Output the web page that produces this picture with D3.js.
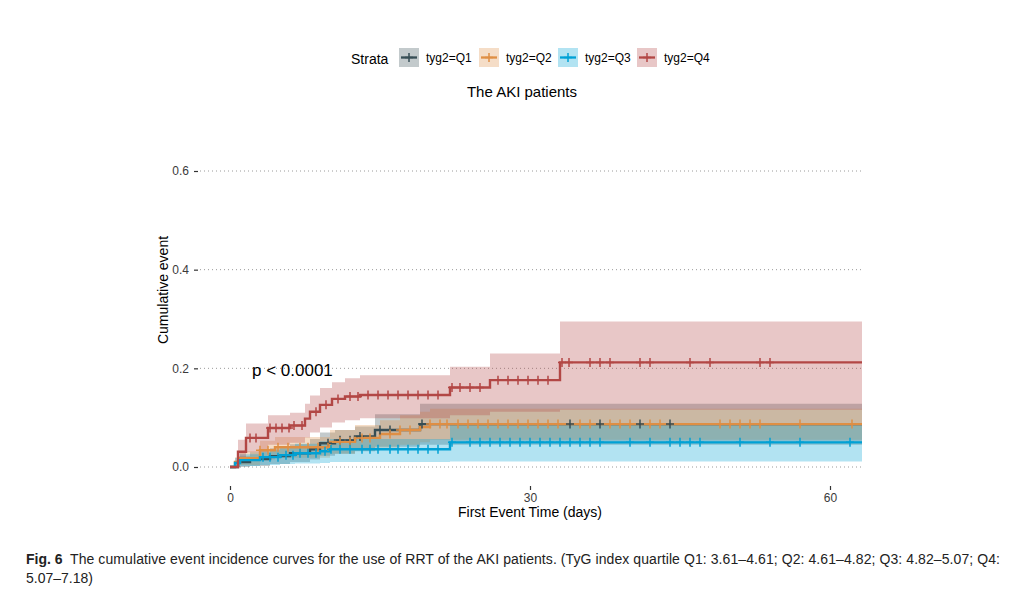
<!DOCTYPE html>
<html>
<head>
<meta charset="utf-8">
<script src="https://cdn.jsdelivr.net/npm/d3@7/dist/d3.min.js"></script>
<style>
  html, body { margin: 0; padding: 0; background: #fff; }
  svg { display: block; }
  text { font-family: "Liberation Sans", Arial, sans-serif; }
</style>
</head>
<body>
<svg id="chart" width="1012" height="593"></svg>
<script>
// ---------- data ----------
const strata = ["tyg2=Q1", "tyg2=Q2", "tyg2=Q3", "tyg2=Q4"];
const colors = ["#374E55", "#DF8F44", "#00A1D5", "#B24745"];

const q1Time  = [0, 0.8, 2, 4, 6, 8, 9, 10.5, 12.5, 14.5, 19];
const q1Est   = [0, 0.010, 0.016, 0.022, 0.028, 0.036, 0.048, 0.054, 0.062, 0.075, 0.087];
const q1Lower = [0, 0, 0.002, 0.006, 0.010, 0.015, 0.023, 0.027, 0.032, 0.041, 0.045];
const q1Upper = [0, 0.022, 0.030, 0.038, 0.046, 0.057, 0.070, 0.075, 0.082, 0.107, 0.128];
const q1Censor = [9.8, 11, 12, 13, 15, 16, 19.2, 34, 37, 41, 44];

const q2Time  = [0, 0.5, 1, 3, 4.5, 10, 12.5, 15, 17, 19, 20];
const q2Est   = [0, 0.010, 0.018, 0.034, 0.040, 0.051, 0.059, 0.067, 0.075, 0.081, 0.087];
const q2Lower = [0, 0, 0.004, 0.015, 0.019, 0.027, 0.033, 0.039, 0.045, 0.050, 0.055];
const q2Upper = [0, 0.020, 0.032, 0.053, 0.061, 0.075, 0.085, 0.095, 0.105, 0.112, 0.118];
const q2Censor = [3, 3.8, 4.8, 5.8, 7, 7.8, 8.8, 9.8, 11, 12, 13.2, 14, 16, 17, 18, 20, 21,
  21.7, 22.8, 23.8, 24.8, 25.8, 26.8, 27.8, 28.8, 29.8, 30.8, 31.8, 32.8, 35, 36, 38, 39, 40,
  42, 43, 49, 50, 51, 52, 53, 57, 62.2];

const q3Time  = [0, 0.5, 1, 3, 5, 6.5, 9, 10, 22];
const q3Est   = [0, 0.008, 0.014, 0.020, 0.024, 0.028, 0.032, 0.036, 0.050];
const q3Lower = [0, 0, 0.002, 0.004, 0.006, 0.007, 0.008, 0.010, 0.011];
const q3Upper = [0, 0.018, 0.026, 0.035, 0.041, 0.047, 0.052, 0.057, 0.086];
const q3Censor = [3.3, 4, 4.8, 5.6, 6.3, 7, 7.8, 8.6, 9.5, 10.1, 11, 12, 13.2, 14, 14.8, 16,
  16.8, 17.8, 18.8, 19.8, 20.8, 22.2, 24, 25, 26, 27, 28, 29, 30, 31, 32, 33, 34, 35, 36, 37,
  40, 42, 44, 45, 46, 47, 51, 54, 57, 62];

const q4Time  = [0, 0.8, 1.6, 3.8, 6, 7.5, 8, 9, 10.2, 11.5, 13, 22, 26, 33];
const q4Est   = [0, 0.031, 0.059, 0.079, 0.084, 0.098, 0.112, 0.126, 0.138, 0.143, 0.146, 0.161, 0.176, 0.212];
const q4Lower = [0, 0.010, 0.030, 0.045, 0.049, 0.060, 0.070, 0.080, 0.090, 0.095, 0.099, 0.105, 0.112, 0.116];
const q4Upper = [0, 0.055, 0.088, 0.105, 0.110, 0.128, 0.145, 0.160, 0.172, 0.180, 0.186, 0.203, 0.230, 0.295];
const q4Censor = [2, 2.6, 4, 4.6, 5.2, 5.9, 6.4, 7.2, 8.6, 9.6, 10.8, 12, 12.8, 13.8, 14.8, 15.8,
  16.8, 17.8, 18.8, 19.8, 20.8, 22.2, 23, 24, 25, 26.8, 27.8, 28.8, 29.8, 30.8, 31.8,
  33.2, 33.9, 36, 37, 38, 41, 42, 46, 48, 53, 54];

const maxTime = 64;
const xTicks = [0, 30, 60];
const yTicks = [0.0, 0.2, 0.4, 0.6];
const titleText = "The AKI patients";
const pText = "p < 0.0001";
const xTitle = "First Event Time (days)";
const yTitle = "Cumulative event";
const captionBold = "Fig. 6";
const captionLine1 = "The cumulative event incidence curves for the use of RRT of the AKI patients. (TyG index quartile Q1: 3.61\u20134.61; Q2: 4.61\u20134.82; Q3: 4.82\u20135.07; Q4:";
const captionLine2 = "5.07\u20137.18)";

const series = [
  {time: q1Time, est: q1Est, lo: q1Lower, hi: q1Upper, cens: q1Censor},
  {time: q2Time, est: q2Est, lo: q2Lower, hi: q2Upper, cens: q2Censor},
  {time: q3Time, est: q3Est, lo: q3Lower, hi: q3Upper, cens: q3Censor},
  {time: q4Time, est: q4Est, lo: q4Lower, hi: q4Upper, cens: q4Censor}
];

// ---------- layout ----------
const svg = d3.select("#chart");
svg.append("rect").attr("width", 1012).attr("height", 593).attr("fill", "#fff");

const x = d3.scaleLinear().domain([-3, 63.2]).range([200, 862]);
const y = d3.scaleLinear().domain([-0.03, 0.63]).range([481.8, 156.2]);

svg.append("defs").append("clipPath").attr("id", "panel")
  .append("rect").attr("x", 200).attr("y", 150).attr("width", 662).attr("height", 335);

// gridlines
svg.append("g").selectAll("line").data(yTicks).join("line")
  .attr("x1", 200).attr("x2", 862)
  .attr("y1", d => y(d)).attr("y2", d => y(d))
  .attr("stroke", "#9a9a9a").attr("stroke-width", 1).attr("stroke-dasharray", "1,3");

// y axis
const yAxis = d3.axisLeft(y).tickValues(yTicks).tickFormat(d3.format(".1f")).tickSize(4).tickPadding(5);
const gy = svg.append("g").attr("transform", "translate(198,0)").call(yAxis);
gy.select(".domain").remove();
gy.selectAll(".tick line").attr("stroke", "#333").attr("stroke-width", 1.2);
gy.selectAll(".tick text").attr("fill", "#3a3a3a").style("font-size", "12px")
  .style("font-family", "Liberation Sans, Arial, sans-serif");

// x axis
const xAxis = d3.axisBottom(x).tickValues(xTicks).tickSize(4).tickPadding(3);
const gx = svg.append("g").attr("transform", "translate(0,486)").call(xAxis);
gx.select(".domain").remove();
gx.selectAll(".tick line").attr("stroke", "#333").attr("stroke-width", 1.2);
gx.selectAll(".tick text").attr("fill", "#3a3a3a").style("font-size", "12px")
  .style("font-family", "Liberation Sans, Arial, sans-serif");

// helpers
function stepPoints(s, key) {
  const pts = s.time.map((t, i) => ({t: t, v: s[key][i]}));
  pts.push({t: maxTime, v: s[key][s[key].length - 1]});
  return pts;
}
function valueAt(s, t) {
  let v = 0;
  for (let i = 0; i < s.time.length; i++) if (s.time[i] <= t) v = s.est[i];
  return v;
}

const plot = svg.append("g").attr("clip-path", "url(#panel)");

// ribbons
const area = d3.area().curve(d3.curveStepAfter)
  .x(d => x(d.t)).y0(d => y(d.lo)).y1(d => y(d.hi));
series.forEach((s, k) => {
  const pts = s.time.map((t, i) => ({t: t, lo: s.lo[i], hi: s.hi[i]}));
  pts.push({t: maxTime, lo: s.lo[s.lo.length - 1], hi: s.hi[s.hi.length - 1]});
  plot.append("path").datum(pts).attr("d", area)
    .attr("fill", colors[k]).attr("fill-opacity", 0.3);
});

// lines
const line = d3.line().curve(d3.curveStepAfter).x(d => x(d.t)).y(d => y(d.v));
series.forEach((s, k) => {
  plot.append("path").datum(stepPoints(s, "est")).attr("d", line)
    .attr("fill", "none").attr("stroke", colors[k]).attr("stroke-width", 2.4);
});

// censor marks
series.forEach((s, k) => {
  const g = plot.append("g");
  g.selectAll("path").data(s.cens).join("path")
    .attr("d", t => {
      const cx = x(t), cy = y(valueAt(s, t));
      return `M${cx - 4},${cy}H${cx + 4}M${cx},${cy - 4.5}V${cy + 4.5}`;
    })
    .attr("stroke", colors[k]).attr("stroke-width", 1.5).attr("fill", "none");
});

// p-value
svg.append("text").attr("x", 252).attr("y", 376).text(pText)
  .style("font-size", "17px").attr("fill", "#000");

// axis titles
svg.append("text").attr("x", 530).attr("y", 517).attr("text-anchor", "middle")
  .style("font-size", "14px").attr("fill", "#000").text(xTitle);
svg.append("text").attr("transform", "translate(168,290) rotate(-90)").attr("text-anchor", "middle")
  .style("font-size", "14px").attr("fill", "#000").text(yTitle);

// title
svg.append("text").attr("x", 522).attr("y", 97).attr("text-anchor", "middle")
  .style("font-size", "15px").attr("fill", "#000").text(titleText);

// legend
svg.append("text").attr("x", 351).attr("y", 64).style("font-size", "14px").attr("fill", "#000").text("Strata");
const keyX = [399, 479, 558, 637];
strata.forEach((name, k) => {
  const g = svg.append("g").attr("transform", `translate(${keyX[k]},48)`);
  g.append("rect").attr("width", 20).attr("height", 19).attr("fill", colors[k]).attr("fill-opacity", 0.3);
  g.append("line").attr("x1", 2).attr("x2", 18).attr("y1", 9.5).attr("y2", 9.5)
    .attr("stroke", colors[k]).attr("stroke-width", 2.3);
  g.append("path").attr("d", "M6,9.5H14M10,5V14").attr("stroke", colors[k]).attr("stroke-width", 1.5);
  g.append("text").attr("x", 27).attr("y", 14).style("font-size", "12px").attr("fill", "#000").text(name);
});

// caption
const cap = svg.append("text").attr("x", 26).attr("y", 564)
  .style("font-size", "14px").attr("fill", "#222");
cap.append("tspan").style("font-weight", "bold").text(captionBold);
cap.append("tspan").attr("x", 70).attr("textLength", 930).attr("lengthAdjust", "spacing").text(captionLine1);
svg.append("text").attr("x", 26).attr("y", 583)
  .style("font-size", "14px").attr("fill", "#222").text(captionLine2);
</script>
</body>
</html>
